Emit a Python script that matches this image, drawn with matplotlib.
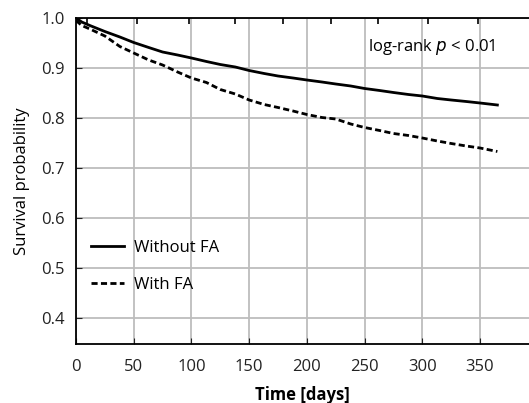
import matplotlib.pyplot as plt

plt.rcParams['font.family'] = ['Open Sans', 'DejaVu Sans']

# Kaplan-Meier curves
days = [0, 5, 12, 25, 38, 50, 63, 75, 88, 100, 113, 125, 138, 150, 163, 175,
        188, 200, 213, 225, 238, 250, 263, 275, 288, 300, 313, 325, 338, 350, 365]
without_fa = [1.0, 0.992, 0.985, 0.973, 0.962, 0.951, 0.941, 0.932, 0.926, 0.920,
              0.913, 0.907, 0.902, 0.895, 0.889, 0.884, 0.880, 0.876, 0.872, 0.868,
              0.864, 0.859, 0.855, 0.851, 0.847, 0.844, 0.839, 0.836, 0.833, 0.830, 0.826]
with_fa = [0.995, 0.985, 0.978, 0.964, 0.943, 0.930, 0.916, 0.906, 0.892, 0.880,
           0.871, 0.857, 0.848, 0.836, 0.827, 0.821, 0.814, 0.807, 0.801, 0.798,
           0.788, 0.781, 0.775, 0.769, 0.765, 0.760, 0.754, 0.749, 0.744, 0.740, 0.733]

x_ticks = [0, 50, 100, 150, 200, 250, 300, 350]
y_ticks = [0.4, 0.5, 0.6, 0.7, 0.8, 0.9, 1.0]
# small marks along the top edge
top_marks = [9.5, 53, 98, 138, 179, 221, 262, 305, 348]

fig = plt.figure(figsize=(5.29, 4.03), dpi=100)
ax = fig.add_axes([76 / 529, 59 / 403, 453 / 529, 326 / 403])

ax.plot(days, without_fa, color='black', lw=2, label='Without FA')
ax.plot(days, with_fa, color='black', lw=2, ls=(0, (2.2, 1.2)), label='With FA')

ax.set_xlim(0, 392.4)
ax.set_ylim(0.348, 1.0)
ax.set_xticks(x_ticks)
ax.set_yticks(y_ticks)
ax.set_yticklabels(['%.1f' % v for v in y_ticks])
ax.grid(True, color='#bdbdbd', lw=1.3)
ax.set_axisbelow(True)
ax.tick_params(direction='in', length=4, labelsize=12, colors='#222222')
ax.tick_params(axis='x', pad=11)
ax.tick_params(axis='y', pad=8)
ax.spines['right'].set_visible(False)
for s in ['left', 'bottom', 'top']:
    ax.spines[s].set_linewidth(1.3)

top = ax.twiny()
top.set_xlim(ax.get_xlim())
top.set_xticks(top_marks)
top.set_xticklabels([])
top.tick_params(direction='in', length=4, width=1.2, color='black')
for s in top.spines.values():
    s.set_visible(False)

ax.set_xlabel('Time [days]', fontsize=12, fontweight='bold', labelpad=8)
ax.set_ylabel('Survival probability', fontsize=12, labelpad=8)

ax.text(253, 0.942, 'log-rank $\\it{p}$ < 0.01', fontsize=12, va='center')

ax.legend(loc='upper left', bbox_to_anchor=(0.0, 0.365), frameon=False,
          fontsize=12, handlelength=2.0, handletextpad=0.55, labelspacing=1.25)

fig.savefig('out.png', dpi=100)
